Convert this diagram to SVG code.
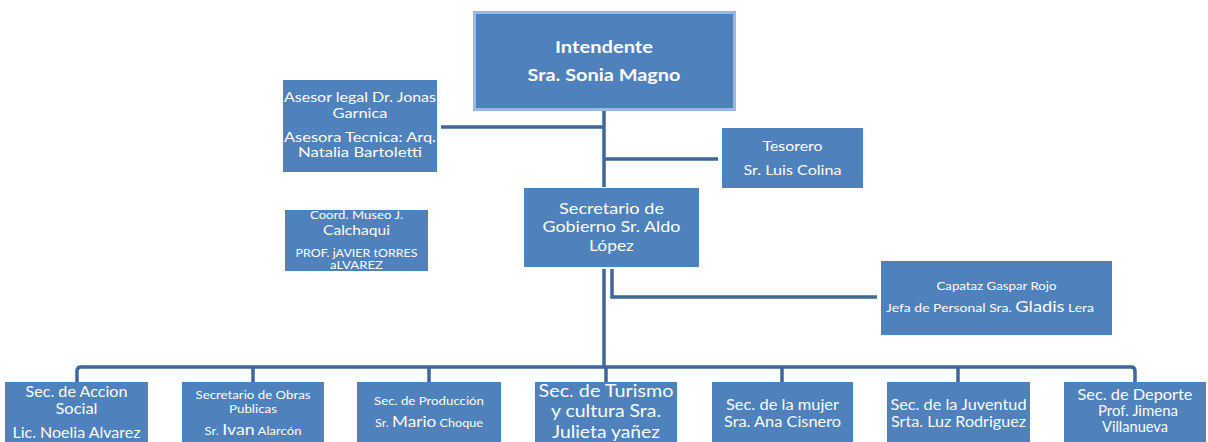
<svg xmlns="http://www.w3.org/2000/svg" width="1208" height="442" viewBox="0 0 1208 442">
<style>
.box{fill:#4f81bd;}
.top{fill:#4f81bd;stroke:#9db8de;stroke-width:3;}
text{font-family:Lato,"Open Sans","Liberation Sans",sans-serif;fill:#ffffff;text-anchor:middle;}
.conn{fill:none;stroke:#3f6797;stroke-width:3.5;}
</style>
<rect width="1208" height="442" fill="#ffffff"/>
<g id="connectors">
<path class="conn" d="M604 110 V187"/>
<path class="conn" d="M441 127 H604"/>
<path class="conn" d="M604 159 H718"/>
<path class="conn" d="M604 269 V367"/>
<path class="conn" d="M612 269 V297 H877"/>
<path class="conn" d="M77 382 V371 Q77 367 81 367 H1131 Q1135 367 1135 371 V382"/>
<path class="conn" d="M253 367 V382 M429 367 V382 M606 367 V382 M782 367 V382 M958 367 V382"/>
</g>
<g id="intendente">
<rect class="top" x="474.5" y="12.5" width="260" height="97"/>
<text x="604" y="53" font-size="17.5" font-weight="bold" textLength="98" lengthAdjust="spacingAndGlyphs">Intendente</text>
<text x="604" y="81" font-size="17.5" font-weight="bold" textLength="153" lengthAdjust="spacingAndGlyphs">Sra. Sonia Magno</text>
</g>
<g id="asesor">
<rect class="box" x="283" y="80" width="154" height="92"/>
<text x="360" y="102" font-size="14" textLength="152" lengthAdjust="spacingAndGlyphs">Asesor legal Dr. Jonas</text>
<text x="360" y="118" font-size="14" textLength="55" lengthAdjust="spacingAndGlyphs">Garnica</text>
<text x="360" y="142" font-size="14" textLength="152" lengthAdjust="spacingAndGlyphs">Asesora Tecnica: Arq.</text>
<text x="360" y="157" font-size="14" textLength="124" lengthAdjust="spacingAndGlyphs">Natalia Bartoletti</text>
</g>
<g id="tesorero">
<rect class="box" x="722" y="128" width="141" height="60"/>
<text x="792.5" y="151" font-size="14" textLength="60" lengthAdjust="spacingAndGlyphs">Tesorero</text>
<text x="792.5" y="175" font-size="14" textLength="98" lengthAdjust="spacingAndGlyphs">Sr. Luis Colina</text>
</g>
<g id="coord">
<rect class="box" x="285" y="210" width="143" height="61"/>
<text x="356.5" y="219" font-size="11" textLength="93" lengthAdjust="spacingAndGlyphs">Coord. Museo J.</text>
<text x="356.5" y="234.5" font-size="14" textLength="67" lengthAdjust="spacingAndGlyphs">Calchaqui</text>
<text x="356.5" y="257" font-size="11" textLength="122" lengthAdjust="spacingAndGlyphs">PROF. jAVIER tORRES</text>
<text x="356.5" y="268.5" font-size="11" textLength="53" lengthAdjust="spacingAndGlyphs">aLVAREZ</text>
</g>
<g id="secretario">
<rect class="box" x="524" y="188" width="175" height="79"/>
<text x="611.5" y="213.5" font-size="16" textLength="105" lengthAdjust="spacingAndGlyphs">Secretario de</text>
<text x="611.5" y="232" font-size="16" textLength="138" lengthAdjust="spacingAndGlyphs">Gobierno Sr. Aldo</text>
<text x="611.5" y="250.5" font-size="16" textLength="45" lengthAdjust="spacingAndGlyphs">López</text>
</g>
<g id="capataz">
<rect class="box" x="881" y="261" width="231" height="74"/>
<text x="996.5" y="290" font-size="12" textLength="120" lengthAdjust="spacingAndGlyphs">Capataz Gaspar Rojo</text>
<text x="990" y="312" font-size="11.5" textLength="208" lengthAdjust="spacingAndGlyphs">Jefa de Personal Sra. <tspan font-size="15">Gladis</tspan> Lera</text>
</g>
<g id="accion-social">
<rect class="box" x="5" y="382" width="143" height="70"/>
<text x="76.5" y="397" font-size="15" textLength="102" lengthAdjust="spacingAndGlyphs">Sec. de Accion</text>
<text x="76.5" y="413.5" font-size="15" textLength="42" lengthAdjust="spacingAndGlyphs">Social</text>
<text x="76.5" y="437.5" font-size="14.5" textLength="128" lengthAdjust="spacingAndGlyphs">Lic. Noelia Alvarez</text>
</g>
<g id="obras-publicas">
<rect class="box" x="182" y="382" width="142" height="70"/>
<text x="253" y="398.5" font-size="11.5" textLength="115" lengthAdjust="spacingAndGlyphs">Secretario de Obras</text>
<text x="253" y="412.5" font-size="11.5" textLength="48" lengthAdjust="spacingAndGlyphs">Publicas</text>
<text x="253" y="434.5" font-size="11.5" textLength="97" lengthAdjust="spacingAndGlyphs">Sr. <tspan font-size="15.5">Ivan</tspan> Alarcón</text>
</g>
<g id="produccion">
<rect class="box" x="357" y="382" width="144" height="70"/>
<text x="429" y="405" font-size="11.5" textLength="110" lengthAdjust="spacingAndGlyphs">Sec. de Producción</text>
<text x="429" y="427" font-size="11.5" textLength="108" lengthAdjust="spacingAndGlyphs">Sr. <tspan font-size="15.5">Mario</tspan> Choque</text>
</g>
<g id="turismo">
<rect class="box" x="535" y="382" width="142" height="70"/>
<text x="606" y="397" font-size="17.5" textLength="135" lengthAdjust="spacingAndGlyphs">Sec. de Turismo</text>
<text x="606" y="417" font-size="17.5" textLength="110" lengthAdjust="spacingAndGlyphs">y cultura Sra.</text>
<text x="606" y="437.5" font-size="17.5" textLength="108" lengthAdjust="spacingAndGlyphs">Julieta yañez</text>
</g>
<g id="mujer">
<rect class="box" x="712" y="382" width="141" height="70"/>
<text x="782.5" y="410" font-size="14.5" textLength="113" lengthAdjust="spacingAndGlyphs">Sec. de la mujer</text>
<text x="782.5" y="426.5" font-size="14.5" textLength="117" lengthAdjust="spacingAndGlyphs">Sra. Ana Cisnero</text>
</g>
<g id="juventud">
<rect class="box" x="887" y="382" width="143" height="70"/>
<text x="958.5" y="410" font-size="14.5" textLength="136" lengthAdjust="spacingAndGlyphs">Sec. de la Juventud</text>
<text x="958.5" y="426.5" font-size="14.5" textLength="135" lengthAdjust="spacingAndGlyphs">Srta. Luz Rodriguez</text>
</g>
<g id="deporte">
<rect class="box" x="1064" y="382" width="142" height="70"/>
<text x="1135" y="399.5" font-size="14.5" textLength="115" lengthAdjust="spacingAndGlyphs">Sec. de Deporte</text>
<text x="1138" y="416" font-size="14.5" textLength="80" lengthAdjust="spacingAndGlyphs">Prof. Jimena</text>
<text x="1135" y="432" font-size="14.5" textLength="66" lengthAdjust="spacingAndGlyphs">Villanueva</text>
</g>
</svg>
